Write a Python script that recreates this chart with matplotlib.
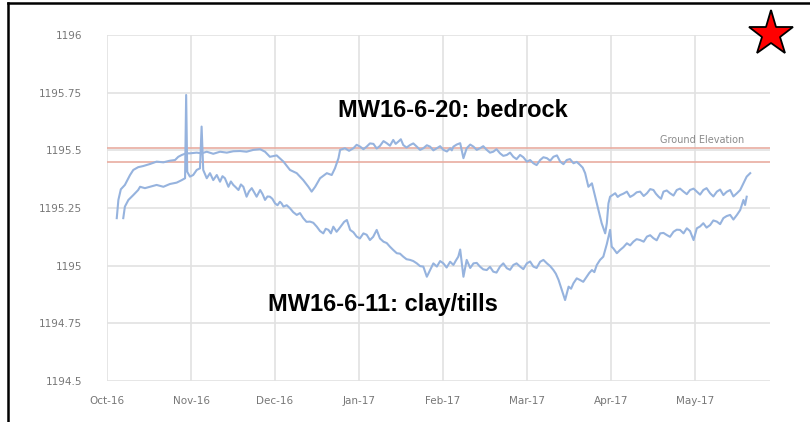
import numpy as np
import pandas as pd
import matplotlib
matplotlib.use("Agg")
import matplotlib.pyplot as plt
import matplotlib.dates as mdates
from matplotlib.lines import Line2D

# Water level data (days after 1 Oct 2016, elevation in m)
start = pd.Timestamp("2016-10-01")

days_bedrock = [3.6, 4.2, 5.1, 6.6, 8.5, 9.7, 11.5, 13.4, 15.9, 18.3, 20.8, 23.2, 25.1, 26.3,
                27.6, 29.2, 30.6, 33.1, 34.9, 36.8, 39.2, 41.7, 44.2, 46.6, 49.1, 51.5, 54.0,
                56.5, 58.3, 60.1, 62.6, 65.1, 67.5, 70.0, 72.4, 74.3, 75.5, 76.8, 78.6, 81.1,
                82.9, 84.1, 85.4, 86.0, 87.8, 90.9, 93.4, 95.8, 98.3, 100.7, 103.2, 105.6,
                107.5, 109.3, 111.8, 114.3, 116.7, 119.2, 121.7, 124.1, 126.6, 127.8, 130.3,
                131.5, 132.7, 135.2, 137.6, 140.1, 142.5, 145.0, 147.5, 149.9, 152.4, 154.9,
                157.3, 159.8, 162.3, 164.7, 167.2, 169.6, 172.1, 174.5, 176.4, 177.6, 178.9,
                180.1, 181.3, 182.5, 183.8, 184.4, 185.0, 185.6, 187.5, 189.3, 191.8, 194.2,
                196.7, 199.2, 201.6, 203.5, 205.3, 207.7, 210.2, 212.7, 215.1, 217.6, 220.0,
                222.5, 225.0, 227.4, 229.9, 232.4, 233.6, 234.8, 236.0, 237.3]
level_bedrock = [1195.206, 1195.285, 1195.331, 1195.350, 1195.393, 1195.415, 1195.427, 1195.432,
                 1195.441, 1195.451, 1195.448, 1195.455, 1195.458, 1195.472, 1195.480, 1195.487,
                 1195.487, 1195.490, 1195.487, 1195.494, 1195.485, 1195.494, 1195.490, 1195.496,
                 1195.497, 1195.494, 1195.502, 1195.505, 1195.494, 1195.472, 1195.478, 1195.451,
                 1195.415, 1195.401, 1195.371, 1195.342, 1195.321, 1195.342, 1195.379, 1195.401,
                 1195.393, 1195.422, 1195.466, 1195.502, 1195.509, 1195.509, 1195.516, 1195.516,
                 1195.528, 1195.519, 1195.531, 1195.545, 1195.538, 1195.523, 1195.523, 1195.516,
                 1195.509, 1195.516, 1195.509, 1195.502, 1195.509, 1195.516, 1195.531, 1195.466,
                 1195.509, 1195.516, 1195.509, 1195.502, 1195.494, 1195.487, 1195.480, 1195.472,
                 1195.480, 1195.451, 1195.444, 1195.458, 1195.466, 1195.472, 1195.451, 1195.458,
                 1195.444, 1195.437, 1195.401, 1195.342, 1195.357, 1195.299, 1195.241, 1195.184,
                 1195.140, 1195.184, 1195.270, 1195.299, 1195.314, 1195.306, 1195.321, 1195.306,
                 1195.321, 1195.314, 1195.328, 1195.299, 1195.321, 1195.314, 1195.328, 1195.321,
                 1195.328, 1195.321, 1195.328, 1195.314, 1195.321, 1195.306, 1195.328, 1195.314,
                 1195.328, 1195.357, 1195.386, 1195.401]
# extra readings of the short-term wiggles
days_bedrock_extra = [89.3, 92.1, 94.6, 97.0, 99.5, 102.0, 104.4, 106.5, 108.4, 110.5, 113.0,
                      115.5, 118.0, 120.4, 122.9, 125.4, 127.2, 129.0, 134.0, 136.4, 138.8,
                      141.3, 143.7, 146.2, 148.7, 151.1, 153.6, 156.1, 158.5, 161.0, 163.5,
                      166.0, 168.4, 170.8, 173.3, 175.5, 188.4, 190.5, 193.0, 195.4, 198.0,
                      200.4, 202.5, 204.4, 206.5, 209.0, 211.4, 213.9, 216.4, 218.8, 221.2,
                      223.7, 226.2, 228.6, 231.1]
level_bedrock_extra = [1195.498, 1195.524, 1195.505, 1195.530, 1195.508, 1195.540, 1195.520,
                       1195.528, 1195.548, 1195.512, 1195.530, 1195.502, 1195.522, 1195.500,
                       1195.518, 1195.495, 1195.500, 1195.525, 1195.525, 1195.502, 1195.518,
                       1195.490, 1195.505, 1195.476, 1195.490, 1195.462, 1195.470, 1195.458,
                       1195.436, 1195.470, 1195.455, 1195.478, 1195.440, 1195.462, 1195.450,
                       1195.425, 1195.298, 1195.312, 1195.298, 1195.318, 1195.302, 1195.332,
                       1195.312, 1195.290, 1195.326, 1195.304, 1195.334, 1195.310, 1195.334,
                       1195.308, 1195.336, 1195.300, 1195.330, 1195.320, 1195.300]

days_clay = [6.0, 6.6, 7.9, 9.7, 11.5, 12.2, 14.0, 15.9, 18.3, 20.8, 23.2, 25.7, 27.6, 28.8,
             29.2, 29.6, 30.6, 31.8, 33.1, 34.3, 34.9, 35.5, 36.8, 38.0, 39.2, 40.5, 41.7, 43.5,
             44.8, 46.6, 48.5, 50.3, 51.5, 53.4, 55.2, 56.5, 58.3, 60.1, 62.0, 63.8, 65.1, 67.5,
             70.0, 72.4, 74.9, 77.4, 79.8, 81.7, 83.5, 84.7, 86.6, 88.5, 89.7, 92.1, 94.6, 97.0,
             99.5, 102.0, 104.4, 106.9, 109.3, 111.8, 114.3, 116.7, 118.0, 119.2, 120.4, 121.7,
             124.1, 126.6, 127.8, 129.6, 130.3, 131.5, 132.7, 135.2, 137.6, 140.1, 142.5, 145.0,
             147.5, 149.9, 152.4, 154.9, 157.3, 159.8, 162.3, 164.7, 166.6, 167.8, 169.0, 170.3,
             172.1, 174.5, 177.0, 178.9, 180.7, 183.1, 184.4, 185.6, 186.2, 186.8, 188.1, 189.3,
             191.8, 194.2, 196.7, 199.2, 201.6, 204.1, 206.5, 209.0, 211.4, 213.9, 216.4, 217.6,
             220.0, 222.5, 225.0, 227.4, 229.9, 232.4, 233.6, 234.8, 235.4, 236.0]
level_clay = [1195.206, 1195.256, 1195.285, 1195.306, 1195.328, 1195.342, 1195.336, 1195.342,
              1195.350, 1195.342, 1195.354, 1195.360, 1195.371, 1195.379, 1195.740, 1195.407,
              1195.386, 1195.393, 1195.415, 1195.422, 1195.603, 1195.415, 1195.379, 1195.401,
              1195.371, 1195.393, 1195.364, 1195.379, 1195.342, 1195.350, 1195.328, 1195.342,
              1195.299, 1195.336, 1195.299, 1195.328, 1195.285, 1195.299, 1195.270, 1195.277,
              1195.256, 1195.249, 1195.220, 1195.206, 1195.191, 1195.169, 1195.140, 1195.155,
              1195.169, 1195.147, 1195.176, 1195.198, 1195.155, 1195.126, 1195.140, 1195.111,
              1195.155, 1195.104, 1195.082, 1195.054, 1195.039, 1195.025, 1195.010, 1194.996,
              1194.952, 1194.981, 1195.010, 1194.996, 1195.010, 1195.017, 1195.003, 1195.039,
              1195.070, 1194.952, 1195.025, 1195.010, 1194.996, 1194.981, 1194.974, 1194.996,
              1194.989, 1195.003, 1194.996, 1195.010, 1194.996, 1195.017, 1195.010, 1194.981,
              1194.938, 1194.895, 1194.851, 1194.909, 1194.924, 1194.938, 1194.952, 1194.981,
              1195.003, 1195.039, 1195.094, 1195.155, 1195.082, 1195.075, 1195.054, 1195.068,
              1195.097, 1195.104, 1195.111, 1195.126, 1195.119, 1195.140, 1195.133, 1195.147,
              1195.155, 1195.162, 1195.111, 1195.162, 1195.184, 1195.176, 1195.191, 1195.206,
              1195.220, 1195.220, 1195.241, 1195.285, 1195.263, 1195.299]
days_clay_extra = [42.6, 44.1, 45.7, 47.5, 49.4, 52.4, 54.3, 57.4, 59.2, 61.0, 62.9, 64.4, 66.3,
                   68.7, 71.2, 73.6, 76.1, 78.6, 80.7, 82.6, 85.6, 87.5, 90.9, 93.3, 95.8, 98.2,
                   100.7, 103.2, 105.6, 108.1, 110.5, 113.0, 115.5, 122.9, 125.3, 128.7, 134.0,
                   136.4, 138.8, 141.3, 143.7, 146.2, 148.7, 151.1, 153.6, 156.1, 158.5, 161.0,
                   163.5, 165.6, 171.2, 173.3, 175.7, 177.9, 179.8, 181.9, 190.5, 193.0, 195.4,
                   198.0, 200.4, 202.8, 205.3, 207.7, 210.2, 212.7, 215.1, 218.8, 221.2, 223.7,
                   226.2, 228.6, 231.1]
level_clay_extra = [1195.388, 1195.362, 1195.365, 1195.340, 1195.352, 1195.322, 1195.318,
                    1195.310, 1195.300, 1195.290, 1195.262, 1195.270, 1195.262, 1195.232,
                    1195.228, 1195.190, 1195.186, 1195.150, 1195.160, 1195.140, 1195.160,
                    1195.190, 1195.145, 1195.118, 1195.134, 1195.125, 1195.118, 1195.098,
                    1195.068, 1195.052, 1195.028, 1195.020, 1194.998, 1195.020, 1194.992,
                    1195.022, 1194.990, 1195.012, 1194.984, 1194.995, 1194.970, 1195.010,
                    1194.982, 1195.010, 1194.985, 1195.018, 1194.990, 1195.025, 1194.998,
                    1194.965, 1194.900, 1194.945, 1194.930, 1194.968, 1194.972, 1195.025,
                    1195.080, 1195.088, 1195.115, 1195.104, 1195.132, 1195.110, 1195.142,
                    1195.125, 1195.156, 1195.140, 1195.150, 1195.170, 1195.165, 1195.196,
                    1195.180, 1195.215, 1195.200]

ground_elev = [1195.51, 1195.45]
tick_step_days = 31  # axis major unit in days
y_ticks = [1194.5, 1194.75, 1195, 1195.25, 1195.5, 1195.75, 1196]
y_tick_labels = ["1194.5", "1194.75", "1195", "1195.25", "1195.5", "1195.75", "1196"]


def to_series(days, levels, days_x, levels_x):
    s = pd.Series(levels + levels_x, index=days + days_x).sort_index()
    return start + pd.to_timedelta(s.index, unit="D"), s.values


dates_bedrock, vals_bedrock = to_series(days_bedrock, level_bedrock,
                                        days_bedrock_extra, level_bedrock_extra)
dates_clay, vals_clay = to_series(days_clay, level_clay, days_clay_extra, level_clay_extra)

fig = plt.figure(figsize=(8.1, 4.22), dpi=100)
ax = fig.add_axes([107 / 810, 1 - 381 / 422, (770 - 107) / 810, (381 - 35) / 422])

line_col = "#96B3DE"
ax.plot(dates_bedrock, vals_bedrock, color=line_col, lw=1.5, zorder=3)
ax.plot(dates_clay, vals_clay, color=line_col, lw=1.5, zorder=3)

for g in ground_elev:
    ax.axhline(g, color="#E9ADA1", lw=1.2, zorder=2)

ax.set_ylim(1194.5, 1196)
ax.set_xlim(start, start + pd.Timedelta(days=244.6))

xticks = [start + pd.Timedelta(days=tick_step_days * i) for i in range(8)]
ax.set_xticks(xticks)
ax.xaxis.set_major_formatter(mdates.DateFormatter("%b-%y"))
ax.set_yticks(y_ticks)
ax.set_yticklabels(y_tick_labels)

ax.grid(True, color="#E2E2E2", lw=1.2, zorder=0)
for s in ax.spines.values():
    s.set_visible(False)
ax.tick_params(length=0, labelsize=7.5, labelcolor="#777777")
ax.tick_params(axis="y", pad=18)
ax.tick_params(axis="x", pad=11)

bold = dict(fontfamily="Liberation Sans", fontweight="bold", fontsize=17, color="black")
ax.text(start + pd.Timedelta(days=85.2), 1195.645, "MW16-6-20: bedrock", va="baseline", **bold)
ax.text(start + pd.Timedelta(days=59.4), 1194.804, "MW16-6-11: clay/tills", va="baseline", **bold)
ax.text(start + pd.Timedelta(days=204.1), 1195.532, "Ground Elevation", fontsize=7,
        color="#8A8A8A", va="baseline")

# red star marker in the corner
fig.add_artist(Line2D([771 / 810], [1 - 34 / 422], marker="*", markersize=34,
                      markerfacecolor="red", markeredgecolor="black", markeredgewidth=1.3,
                      transform=fig.transFigure))

# frame lines of the screenshot
fig.add_artist(Line2D([7.5 / 810, 1], [1 - 2.5 / 422, 1 - 2.5 / 422], color="black", lw=1.8,
                      transform=fig.transFigure))
fig.add_artist(Line2D([8 / 810, 8 / 810], [0, 1 - 2.5 / 422], color="black", lw=1.8,
                      transform=fig.transFigure))

fig.savefig("out.png", dpi=100)
